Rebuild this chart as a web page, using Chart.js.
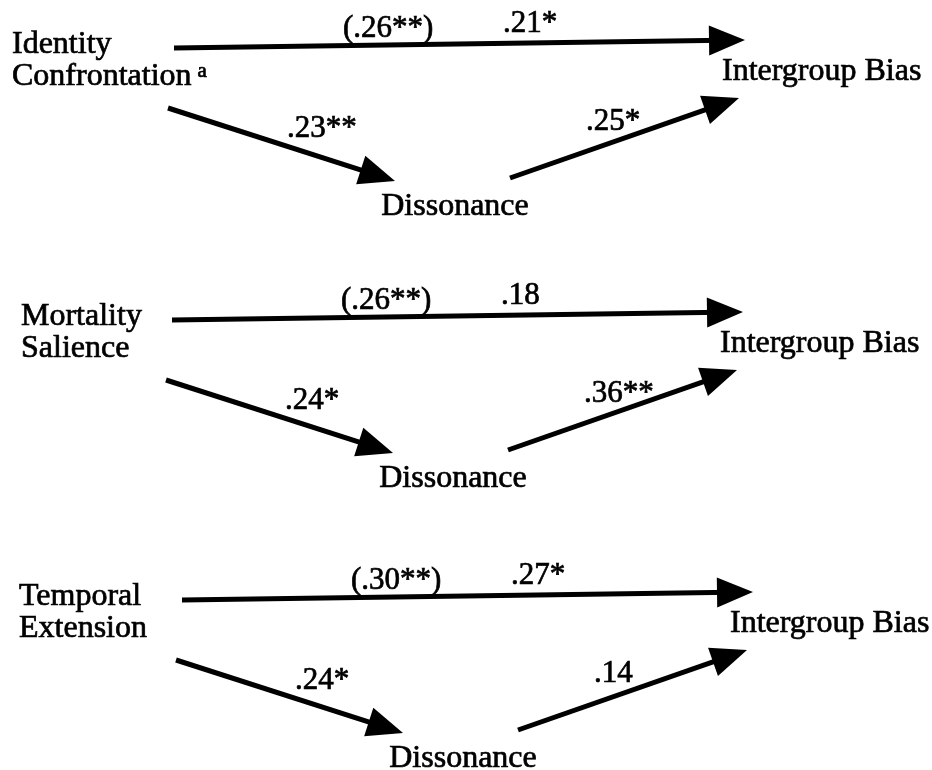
<!DOCTYPE html>
<html lang="en">
<head>
    <meta charset="UTF-8">
    <title>Mediation paths: Dissonance and Intergroup Bias</title>
    <script src="https://cdn.jsdelivr.net/npm/chart.js"></script>
    <style>
        body { margin: 0; background: #fff; }
        canvas { display: block; }
    </style>
</head>
<body>

    <canvas id="pathChart" width="932" height="770"></canvas>

    <script>
        // path coefficients, one entry per panel (top to bottom)
        const predictorLines = [['Identity', 'Confrontation'], ['Mortality', 'Salience'], ['Temporal', 'Extension']];
        const predictorNote = ['a', '', ''];
        const mediatorLabel = 'Dissonance';
        const outcomeLabel = 'Intergroup Bias';
        const totalEffect = ['(.26**)', '(.26**)', '(.30**)'];
        const directEffect = ['.21*', '.18', '.27*'];
        const aPath = ['.23**', '.24*', '.24*'];
        const bPath = ['.25*', '.36**', '.14'];

        // layout of one panel (axis units), and where each panel sits
        const panelShift = [[0, 0], [-2, 272], [8, 552]];
        const predictorX = [12, 21, 19];
        const arrowPaths = {
            direct: [[174, 48], [745, 40]],
            a: [[168, 108], [395, 181]],
            b: [[510, 178], [739, 98]]
        };
        const headLen = 36, headHalf = 15;
        const FONT = '"Liberation Serif", "Times New Roman", serif';

        const datasets = [];
        panelShift.forEach(([dx, dy], p) => {
            Object.keys(arrowPaths).forEach(key => {
                const [s, e] = arrowPaths[key];
                const x0 = s[0] + dx, y0 = s[1] + dy, x1 = e[0] + dx, y1 = e[1] + dy;
                const len = Math.hypot(x1 - x0, y1 - y0);
                // stop the shaft inside the arrow head
                const k = (len - headLen * 0.6) / len;
                datasets.push({
                    label: key + ' ' + p,
                    data: [{ x: x0, y: y0 }, { x: x0 + (x1 - x0) * k, y: y0 + (y1 - y0) * k }],
                    tip: { x: x1, y: y1 },
                    from: { x: x0, y: y0 },
                    showLine: true,
                    borderColor: '#000',
                    borderWidth: 5,
                    borderCapStyle: 'butt',
                    pointRadius: 0
                });
            });
        });

        const diagramPlugin = {
            id: 'diagram',
            afterDatasetsDraw(chart) {
                const { ctx, scales: { x, y } } = chart;
                const px = v => x.getPixelForValue(v);
                const py = v => y.getPixelForValue(v);
                ctx.save();
                ctx.fillStyle = '#000';
                ctx.strokeStyle = '#000';

                // arrow heads
                chart.data.datasets.forEach(ds => {
                    const tx = px(ds.tip.x), ty = py(ds.tip.y);
                    const fx = px(ds.from.x), fy = py(ds.from.y);
                    const ang = Math.atan2(ty - fy, tx - fx);
                    const bx = tx - headLen * Math.cos(ang), by = ty - headLen * Math.sin(ang);
                    ctx.beginPath();
                    ctx.moveTo(tx, ty);
                    ctx.lineTo(bx + headHalf * Math.sin(ang), by - headHalf * Math.cos(ang));
                    ctx.lineTo(bx - headHalf * Math.sin(ang), by + headHalf * Math.cos(ang));
                    ctx.closePath();
                    ctx.fill();
                });

                // scanned type looks a little heavy, so fill plus a thin stroke
                const text = (str, vx, vy, size, align) => {
                    ctx.font = size + 'px ' + FONT;
                    ctx.textAlign = align || 'left';
                    ctx.textBaseline = 'alphabetic';
                    ctx.lineWidth = 0.7;
                    ctx.fillText(str, px(vx), py(vy));
                    ctx.strokeText(str, px(vx), py(vy));
                    return ctx.measureText(str).width;
                };

                panelShift.forEach(([dx, dy], p) => {
                    text(predictorLines[p][0], predictorX[p], 53 + dy, 32);
                    const w = text(predictorLines[p][1], predictorX[p], 85 + dy, 32);
                    if (predictorNote[p]) text(predictorNote[p], predictorX[p] + w + 6, 77 + dy, 21);
                    text(outcomeLabel, 722 + dx, 80 + dy, 32);
                    text(mediatorLabel, 455 + dx, 215 + dy, 32, 'center');
                    text(totalEffect[p], 343 + dx, 37 + dy, 31);
                    text(directEffect[p], 503 + dx, 32 + dy, 31);
                    text(aPath[p], 287 + dx, 137 + dy, 31);
                    text(bPath[p], 586 + dx, 130 + dy, 31);
                });
                ctx.restore();
            }
        };

        new Chart(document.getElementById('pathChart'), {
            type: 'scatter',
            data: { datasets: datasets },
            options: {
                responsive: false,
                animation: false,
                layout: { padding: 0 },
                plugins: { legend: { display: false }, tooltip: { enabled: false } },
                scales: {
                    x: { type: 'linear', min: 0, max: 932, display: false },
                    y: { type: 'linear', min: 0, max: 770, reverse: true, display: false }
                }
            },
            plugins: [diagramPlugin]
        });
    </script>

</body>
</html>
